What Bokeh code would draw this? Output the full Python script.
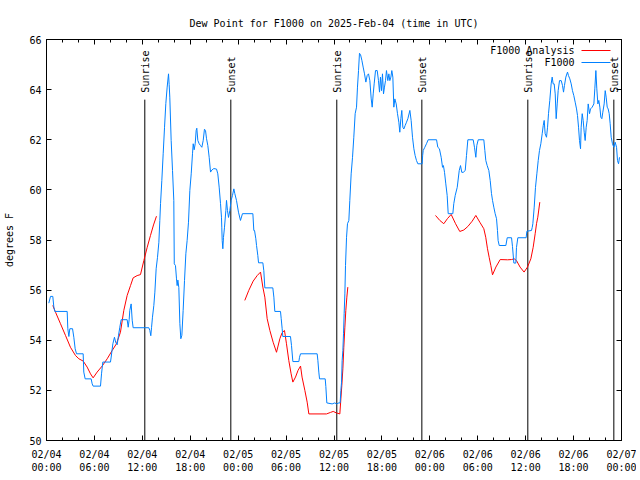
import numpy as np
from bokeh.plotting import figure
from bokeh.models import (FixedTicker, LinearAxis, Range1d, Label, BoxAnnotation,
                          ColumnDataSource, CustomJSTickFormatter)
from bokeh.embed import file_html
from bokeh.resources import INLINE
from bokeh.core.properties import value

# ---------------- data (x = hours since 2025-02-04 00:00 UTC, y = degrees F) ----
f1000_hours = [
    0.29, 0.5, 0.79, 0.92, 1.04, 2.59, 2.67, 2.8, 2.92, 3.26, 3.42, 3.59, 3.76, 4.59,
    4.67, 4.84, 5.59, 5.72, 5.84, 6.76, 6.89, 7.05, 8.01, 8.1, 8.31, 8.51, 8.68, 8.85,
    9.02, 9.18, 9.35, 10.1, 10.23, 10.35, 10.43, 10.6, 10.73, 10.85, 12.81, 12.94,
    13.06, 13.15, 13.27, 13.44, 13.57, 13.73, 13.9, 14.07, 14.19, 14.28, 14.44, 14.61,
    14.78, 14.94, 15.11, 15.28, 15.36, 15.44, 15.61, 15.78, 15.94, 16.0, 16.15, 16.28,
    16.36, 16.45, 16.57, 16.7, 16.82, 16.95, 17.11, 17.28, 17.45, 17.61, 17.78, 17.95,
    18.12, 18.28, 18.37, 18.49, 18.62, 18.74, 18.82, 18.95, 19.12, 19.28, 19.45, 19.62,
    19.78, 19.91, 20.04, 20.2, 20.37, 20.54, 20.7, 20.95, 21.29, 21.45, 21.62, 21.79,
    21.91, 21.95, 22.0, 22.08, 22.16, 22.29, 22.46, 22.54, 22.66, 22.79, 22.96, 23.12,
    23.29, 23.46, 23.58, 23.79, 24.04, 24.29, 24.54, 25.84, 25.96, 26.05, 26.21, 26.3,
    26.46, 26.55, 27.09, 27.21, 27.34, 28.34, 28.47, 28.59, 29.3, 29.39, 29.51, 29.59,
    30.55, 30.68, 30.85, 31.6, 31.68, 31.81, 33.89, 33.98, 34.1, 34.19, 34.9, 34.98,
    35.1, 35.77, 36.1, 36.31, 36.61, 36.77, 36.86, 36.94, 37.02, 37.11, 37.19, 37.27,
    37.36, 37.44, 37.57, 37.69, 37.86, 37.98, 38.15, 38.32, 38.48, 38.65, 38.82, 38.94,
    39.07, 39.19, 39.32, 39.49, 39.65, 39.82, 39.99, 40.15, 40.32, 40.49, 40.66, 40.78,
    40.91, 41.03, 41.2, 41.41, 41.57, 41.7, 41.82, 41.95, 42.07, 42.2, 42.32, 42.45,
    42.57, 42.74, 42.87, 42.99, 43.12, 43.24, 43.37, 43.49, 43.62, 43.79, 43.95, 44.12,
    44.24, 44.37, 44.49, 44.62, 44.74, 44.91, 45.08, 45.25, 45.5, 45.66, 45.83, 46.0,
    46.16, 46.33, 46.5, 47.04, 47.1, 47.17, 47.37, 47.58, 47.79, 48.84, 49.0, 49.2,
    49.42, 49.59, 49.7, 49.84, 50.0, 50.17, 50.3, 50.88, 51.0, 51.18, 51.43, 51.68,
    51.84, 52.0, 52.18, 52.43, 52.59, 52.76, 53.43, 53.59, 53.76, 53.88, 54.06, 54.76,
    54.89, 55.01, 55.18, 55.39, 55.56, 55.72, 55.85, 56.01, 56.18, 56.35, 56.47, 56.55,
    56.69, 57.52, 57.69, 58.23, 58.35, 58.52, 58.77, 58.85, 59.02, 60.06, 60.15, 60.73,
    60.82, 60.9, 61.07, 61.23, 61.4, 61.57, 61.73, 61.9, 62.07, 62.2, 62.32, 62.44,
    62.61, 62.74, 62.86, 63.02, 63.19, 63.32, 63.44, 63.57, 63.7, 63.82, 63.95, 64.07,
    64.24, 64.45, 64.61, 64.74, 64.86, 65.03, 65.24, 65.36, 65.53, 65.7, 65.86, 66.03,
    66.2, 66.37, 66.49, 66.62, 66.74, 66.87, 66.95, 67.08, 67.2, 67.33, 67.45, 67.58,
    67.7, 67.83, 68.0, 68.12, 68.33, 68.54, 68.66, 68.79, 68.91, 69.04, 69.16, 69.29,
    69.41, 69.54, 69.66, 69.83, 69.96, 70.08, 70.21, 70.33, 70.46, 70.58, 70.71, 70.87,
    71.04, 71.21, 71.38, 71.5, 71.63, 71.75,
]
f1000_dewpoint = [
    55.48, 55.75, 55.75, 55.32, 55.15, 55.15, 54.46, 54.15, 54.46, 54.46, 54.12, 53.66,
    53.46, 53.46, 52.73, 52.46, 52.46, 52.26, 52.17, 52.17, 52.66, 53.13, 53.13, 53.33,
    53.86, 54.12, 53.9, 53.82, 54.2, 54.52, 54.82, 54.82, 54.52, 54.82, 55.19, 55.45,
    54.8, 54.5, 54.5, 54.39, 54.18, 54.5, 54.92, 55.39, 55.92, 56.85, 57.31, 57.91,
    58.78, 59.45, 60.37, 61.44, 62.5, 63.44, 64.1, 64.63, 64.2, 63.7, 61.97, 60.77,
    59.58, 57.05, 56.98, 56.45, 56.18, 56.4, 56.1, 54.66, 54.06, 54.2, 55.19, 56.38,
    57.45, 57.98, 58.71, 59.98, 60.64, 61.44, 61.84, 61.6, 61.84, 62.37, 62.46, 61.97,
    61.84, 61.77, 61.7, 61.97, 62.42, 62.37, 62.04, 61.77, 61.3, 60.71, 60.79, 60.85,
    60.83, 60.64, 60.11, 59.45, 58.91, 58.51, 57.98, 57.65, 58.1, 58.51, 59.18, 59.58,
    59.18, 58.9, 59.18, 59.58, 59.78, 60.04, 59.85, 59.58, 59.11, 58.78, 59.05, 59.05,
    58.38, 58.38, 58.05, 57.78, 57.38, 57.09, 57.09, 56.78, 56.09, 56.09, 55.72, 55.15,
    55.15, 54.86, 54.46, 54.15, 54.15, 53.79, 53.15, 53.15, 53.32, 53.46, 53.46, 53.2,
    52.73, 52.46, 52.46, 52.15, 51.5, 51.46, 51.5, 51.46, 51.5, 51.5, 52.0, 52.3,
    53.19, 53.59, 54.26, 55.06, 55.85, 56.98, 58.11, 58.65, 58.78, 59.58, 60.64, 61.3,
    62.1, 63.04, 63.3, 64.1, 64.76, 65.45, 65.4, 65.17, 64.9, 64.63, 64.3, 64.56,
    64.63, 64.36, 63.63, 63.3, 63.83, 64.23, 64.76, 64.76, 64.36, 63.9, 64.5, 63.96,
    64.63, 63.83, 64.1, 64.36, 64.76, 64.36, 64.63, 64.36, 64.5, 64.76, 64.5, 63.3,
    63.63, 63.43, 63.04, 62.7, 62.3, 62.84, 63.17, 62.5, 62.43, 62.57, 62.7, 62.84,
    63.17, 62.77, 62.1, 61.64, 61.37, 61.17, 61.04, 61.04, 61.37, 61.57, 61.7, 61.84,
    62.0, 62.0, 61.7, 61.64, 61.3, 60.9, 60.97, 60.7, 60.24, 59.78, 59.05, 59.05,
    59.45, 59.78, 60.1, 60.77, 60.97, 60.7, 60.7, 60.77, 61.37, 62.0, 62.0, 61.7,
    61.3, 61.77, 62.0, 62.0, 61.57, 61.17, 60.97, 60.77, 60.37, 59.85, 59.58, 59.31,
    59.05, 58.85, 58.38, 57.98, 57.78, 57.78, 58.09, 58.09, 57.74, 57.08, 57.08, 57.7,
    58.09, 58.09, 58.35, 58.38, 58.5, 58.65, 59.31, 60.1, 60.64, 61.17, 61.57, 61.84,
    62.24, 62.57, 62.77, 62.24, 62.1, 62.5, 63.04, 63.57, 64.23, 64.5, 64.23, 64.23,
    63.83, 62.84, 63.43, 63.96, 64.36, 64.36, 64.17, 63.9, 64.17, 64.5, 64.7, 64.56,
    64.43, 64.23, 63.96, 63.76, 63.5, 63.23, 62.97, 62.5, 61.97, 61.64, 62.5, 63.04,
    62.77, 62.3, 61.97, 62.5, 62.77, 63.43, 63.04, 63.23, 63.3, 63.43, 64.03, 64.76,
    64.03, 63.43, 63.57, 63.3, 62.9, 62.84, 63.1, 63.43, 63.96, 63.7, 63.3, 63.23,
    63.04, 62.64, 62.1, 61.84, 61.7, 61.9, 61.7, 61.17, 61.04, 61.3,
]

analysis_hours = [
    0.79, 1.13, 1.75, 2.38, 3.0, 3.63, 4.05, 4.59, 5.09, 5.51, 5.84, 6.34, 6.97, 7.6,
    8.22, 8.76, 9.26, 9.68, 10.1, 10.52, 10.85, 11.35, 11.77, 12.19, 12.61, 13.02,
    13.4, 13.77,
    np.nan,
    24.83, 25.33, 25.88, 26.38, 26.8, 27.09, 27.34, 27.63, 27.97, 28.38, 28.8, 29.22,
    29.5, 29.8, 30.05, 30.34, 30.63, 30.85, 31.18, 31.5, 31.81, 32.0, 32.35, 32.64,
    32.85, 35.06, 35.56, 35.9, 36.31, 36.73, 36.86, 36.98, 37.11, 37.23, 37.36, 37.48,
    37.61, 37.73,
    np.nan,
    48.71, 49.25, 49.75, 50.2, 50.67, 51.22, 51.75, 52.26, 52.76, 53.3, 53.76, 54.26,
    54.76, 55.0, 55.22, 55.43, 55.64, 55.85, 56.27, 56.81, 57.73, 58.23, 58.56, 58.85,
    59.3, 59.8, 60.23, 60.65, 60.94, 61.19, 61.36, 61.52, 61.77,
]
analysis_dewpoint = [
    55.39, 55.12, 54.66, 54.19, 53.72, 53.39, 53.26, 53.17, 52.93, 52.66, 52.5, 52.73,
    52.97, 53.26, 53.59, 53.86, 54.32, 55.19, 55.79, 56.18, 56.49, 56.58, 56.62, 57.18,
    57.71, 58.18, 58.6, 58.95,
    np.nan,
    55.59, 55.99, 56.36, 56.58, 56.72, 56.12, 55.72, 54.86, 54.39, 53.92, 53.52, 54.06,
    54.3, 54.39, 53.86, 53.19, 52.66, 52.33, 52.53, 52.8, 52.97, 52.53, 52.0, 51.53,
    51.06, 51.06, 51.12, 51.16, 51.1, 51.06, 51.66, 52.19, 52.86, 53.72, 54.52, 55.19,
    55.72, 56.12,
    np.nan,
    58.98, 58.78, 58.65, 58.85, 59.02, 58.65, 58.34, 58.4, 58.54, 58.75, 58.98, 58.71,
    58.45, 58.11, 57.65, 57.31, 56.98, 56.61, 56.92, 57.22, 57.21, 57.22, 57.25, 57.18,
    56.92, 56.72, 56.92, 57.25, 57.71, 58.25, 58.65, 58.91, 59.51,
]

sun_event_hours = [12.31, 23.08, 36.35, 47.0, 60.27, 71.04]
sun_event_names = ["Sunrise", "Sunset", "Sunrise", "Sunset", "Sunrise", "Sunset"]

x_tick_hours = [0, 6, 12, 18, 24, 30, 36, 42, 48, 54, 60, 66, 72]
x_tick_labels = ["02/04\n00:00", "02/04\n06:00", "02/04\n12:00", "02/04\n18:00",
                 "02/05\n00:00", "02/05\n06:00", "02/05\n12:00", "02/05\n18:00",
                 "02/06\n00:00", "02/06\n06:00", "02/06\n12:00", "02/06\n18:00",
                 "02/07\n00:00"]
x_minor_hours = [h for h in range(0, 73, 2) if h % 6 != 0]
y_ticks = [50, 52, 54, 56, 58, 60, 62, 64, 66]

series_names = ["F1000 Analysis", "F1000"]
series_colors = ["#ff0000", "#0080ff"]

# ---------------- figure ----------------
FONT = "DejaVu Sans Mono"
FS = "10px"

p = figure(frame_width=575, frame_height=401, output_backend="svg",
           toolbar_location=None, x_range=Range1d(0, 72), y_range=Range1d(50, 66),
           min_border_left=46, min_border_right=15, min_border_top=39,
           min_border_bottom=36,
           title="Dew Point for F1000 on 2025-Feb-04 (time in UTC)")
p.title.align = "center"
p.title.text_font = FONT
p.title.text_font_size = FS
p.title.text_font_style = "normal"
p.title.text_color = "black"
p.title.standoff = 21
p.background_fill_color = "white"
p.border_fill_color = "white"
p.outline_line_color = "black"
p.outline_line_width = 1
p.xgrid.visible = False
p.ygrid.visible = False

xt = FixedTicker(ticks=x_tick_hours, minor_ticks=x_minor_hours)
yt = FixedTicker(ticks=y_ticks, minor_ticks=[])

def style_axis(ax):
    ax.major_tick_in = 5
    ax.major_tick_out = 0
    ax.minor_tick_in = 3
    ax.minor_tick_out = 0
    ax.axis_line_color = "black"
    ax.major_tick_line_color = "black"
    ax.minor_tick_line_color = "black"
    ax.major_label_text_font = FONT
    ax.major_label_text_font_size = FS
    ax.major_label_text_color = "black"

p.xaxis.ticker = xt
p.xaxis.major_label_overrides = dict(zip(x_tick_hours, x_tick_labels))
p.xaxis.major_label_standoff = 8
p.yaxis.ticker = yt
p.yaxis.major_label_standoff = 5
p.yaxis.axis_label = "degrees F"
p.yaxis.axis_label_standoff = 11
p.yaxis.axis_label_text_font = FONT
p.yaxis.axis_label_text_font_size = FS
p.yaxis.axis_label_text_font_style = "normal"
p.yaxis.axis_label_text_color = "black"
style_axis(p.xaxis[0])
style_axis(p.yaxis[0])

blank = CustomJSTickFormatter(code="return ''")
top_ax = LinearAxis(ticker=xt, formatter=blank)
right_ax = LinearAxis(ticker=yt, formatter=blank)
style_axis(top_ax)
style_axis(right_ax)
top_ax.major_label_standoff = 0
right_ax.major_label_standoff = 0
p.add_layout(top_ax, "above")
p.add_layout(right_ax, "right")

# sunrise / sunset markers
sun_src = ColumnDataSource(dict(t=sun_event_hours, name=sun_event_names))
p.segment(x0="t", y0=50, x1="t", y1=63.6, source=sun_src, line_color="black",
          line_width=1)
p.text(x="t", y=63.88, text="name", source=sun_src, angle=np.pi / 2,
       text_align="left", text_baseline="middle", x_offset=1,
       text_font=value(FONT), text_font_size=FS, text_color="black")

# series
p.line(analysis_hours, analysis_dewpoint, line_color=series_colors[0], line_width=1)
p.line(f1000_hours, f1000_dewpoint, line_color=series_colors[1], line_width=1)

# gnuplot-style key: label on the left, line sample on the right
for i, (name, col) in enumerate(zip(series_names, series_colors)):
    ky = 390 - 12 * i
    p.add_layout(Label(x=528, y=ky, x_units="screen", y_units="screen", text=name,
                       text_align="right", text_baseline="middle", text_font=FONT,
                       text_font_size=FS, text_color="black"))
    p.add_layout(BoxAnnotation(left=535, right=564, bottom=ky - 0.5, top=ky + 0.5,
                               left_units="screen", right_units="screen",
                               bottom_units="screen", top_units="screen",
                               fill_color=col, fill_alpha=1, line_alpha=0))

open("out.html", "w").write(file_html(p, INLINE))
